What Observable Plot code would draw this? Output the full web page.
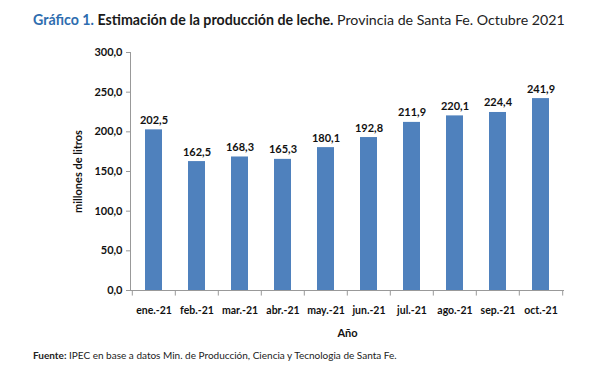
<!DOCTYPE html>
<html><head><meta charset="utf-8">
<script src="https://cdn.jsdelivr.net/npm/d3@7"></script>
<script src="https://cdn.jsdelivr.net/npm/@observablehq/plot@0.6"></script>
<style>
body{margin:0;background:#fff;font-family:Lato,"Open Sans",sans-serif;width:593px;height:392px;overflow:hidden}
#title{position:absolute;left:33px;top:11px;font-size:14.2px;color:#222;white-space:nowrap}
#title .n{color:#2E6DAF;font-weight:bold}
#title b{color:#1a1a1a}
#chart{position:absolute;left:0;top:38px}
#cap{position:absolute;left:33px;top:349px;font-size:10px;color:#222;white-space:nowrap}
</style></head><body>
<div id="title"><span class="n">Gráfico 1.</span> <b>Estimación de la producción de leche.</b> Provincia de Santa Fe. Octubre 2021</div>
<div id="chart"></div>
<div id="cap"><b>Fuente:</b> IPEC en base a datos Min. de Producción, Ciencia y Tecnologia de Santa Fe.</div>
<script>
const months = ["ene.-21","feb.-21","mar.-21","abr.-21","may.-21","jun.-21","jul.-21","ago.-21","sep.-21","oct.-21"];
const values = [202.5,162.5,168.3,165.3,180.1,192.8,211.9,220.1,224.4,241.9];
const yTicks = [0,50,100,150,200,250,300];

const data = months.map((m,i)=>({mes:m, v:values[i]}));
const W = 593, ML = 130, MR = 29;
const step = (W - ML - MR) / months.length;
const fmt = d => d.toFixed(1).replace(".", ",");

const chart = Plot.plot({
  width: W, height: 305,
  marginLeft: ML, marginRight: MR, marginTop: 14, marginBottom: 53,
  style: {fontFamily: "Lato, 'Open Sans', sans-serif", fontSize: "10.5px", color: "#111", background: "transparent"},
  x: {domain: months, paddingInner: 0.6, paddingOuter: 0.3, label: null},
  y: {domain: [0,300], ticks: yTicks, label: null},
  marks: [
    Plot.barY(data, {x: "mes", y: "v", fill: "#4F81BD"}),
    Plot.text(data, {x: "mes", y: "v", text: d => fmt(d.v), lineAnchor: "bottom", dy: -6, fontWeight: "bold", fontSize: 11, fill: "#111"}),
    Plot.ruleY([0], {stroke: "#999", strokeWidth: 1}),
    Plot.ruleX(months, {x: d => d, y1: 0, y2: -7, dx: -step/2, stroke: "#999"}),
    Plot.ruleX([months[months.length-1]], {x: d => d, y1: 0, y2: -7, dx: step/2, stroke: "#999"}),
    Plot.axisX({tickSize: 0, tickPadding: 16, fontWeight: "bold", fontSize: 10.5, label: "Año", labelAnchor: "center", labelOffset: 46}),
    Plot.axisY(yTicks, {tickSize: 4, tickPadding: 4, stroke: "#999", tickFormat: fmt, fontWeight: "bold", fontSize: 11, label: "millones de litros", labelAnchor: "center", labelOffset: 56}),
    Plot.frame({anchor: "left", stroke: "#999"})
  ]
});
chart.querySelectorAll('[aria-label="x-axis label"] text, [aria-label="y-axis label"] text').forEach(t=>{
  t.textContent = t.textContent.replace(/[↑→←↓]/g, "").trim();
});
chart.querySelectorAll('[aria-label="x-axis label"], [aria-label="y-axis label"]').forEach(g=>{g.style.fontWeight="bold";g.style.fontSize="11px";});
document.getElementById("chart").appendChild(chart);
</script>
</body></html>
